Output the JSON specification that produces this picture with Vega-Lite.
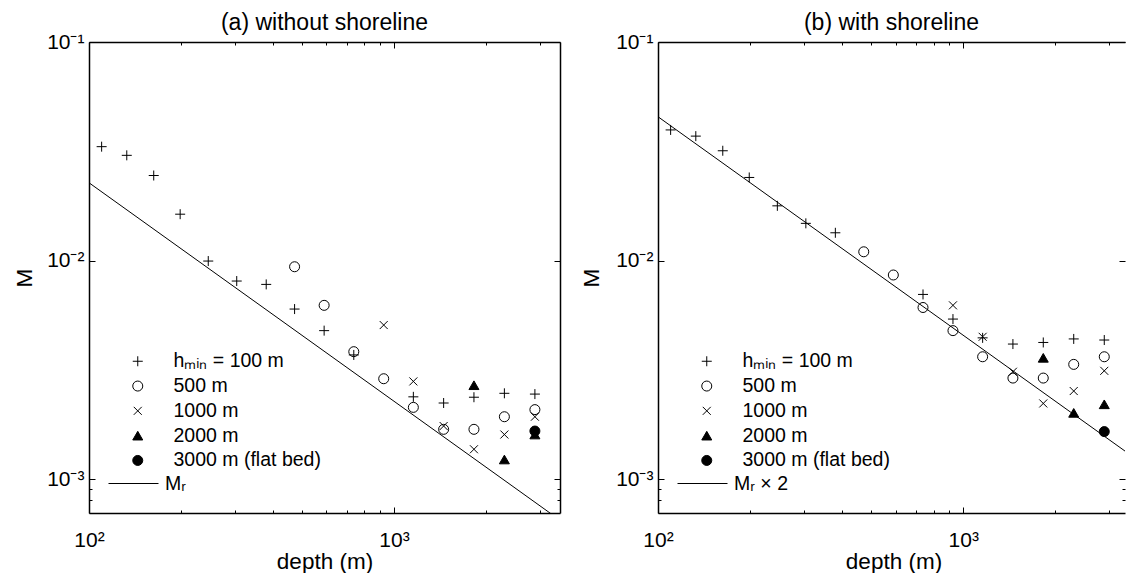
{
  "$schema": "https://vega.github.io/schema/vega-lite/v6.json",
  "background": "white",
  "padding": {"left": 13, "top": 12, "right": 0, "bottom": 0},
  "bounds": "flush",
  "spacing": 98,
  "config": {
    "view": {"stroke": null},
    "font": "Liberation Sans",
    "axis": {
      "grid": false,
      "domainColor": "black",
      "domainWidth": 1.5,
      "tickColor": "black",
      "tickWidth": 1,
      "labelColor": "black",
      "titleColor": "black",
      "labelFont": "Liberation Sans",
      "titleFont": "Liberation Sans",
      "labelFontSize": 21,
      "titleFontSize": 22.5,
      "titleFontWeight": "normal"
    },
    "legend": {
      "labelFont": "Liberation Sans",
      "labelColor": "black",
      "labelFontSize": 19.5,
      "padding": 0,
      "symbolStrokeColor": "black",
      "symbolStrokeWidth": 1,
      "symbolOpacity": 1
    },
    "title": {"font": "Liberation Sans", "fontSize": 23, "fontWeight": "normal", "color": "black"}
  },
  "datasets": {
    "pa": [
      {"depth": 110, "M": 0.0332, "series": "hₘᵢₙ = 100 m"},
      {"depth": 133, "M": 0.0303, "series": "hₘᵢₙ = 100 m"},
      {"depth": 163, "M": 0.0245, "series": "hₘᵢₙ = 100 m"},
      {"depth": 199, "M": 0.0163, "series": "hₘᵢₙ = 100 m"},
      {"depth": 246, "M": 0.00995, "series": "hₘᵢₙ = 100 m"},
      {"depth": 305, "M": 0.00806, "series": "hₘᵢₙ = 100 m"},
      {"depth": 381, "M": 0.00778, "series": "hₘᵢₙ = 100 m"},
      {"depth": 472, "M": 0.0060, "series": "hₘᵢₙ = 100 m"},
      {"depth": 590, "M": 0.00478, "series": "hₘᵢₙ = 100 m"},
      {"depth": 738, "M": 0.0037, "series": "hₘᵢₙ = 100 m"},
      {"depth": 1157, "M": 0.00238, "series": "hₘᵢₙ = 100 m"},
      {"depth": 1454, "M": 0.00223, "series": "hₘᵢₙ = 100 m"},
      {"depth": 1828, "M": 0.00237, "series": "hₘᵢₙ = 100 m"},
      {"depth": 2300, "M": 0.00247, "series": "hₘᵢₙ = 100 m"},
      {"depth": 2896, "M": 0.00245, "series": "hₘᵢₙ = 100 m"},
      {"depth": 472, "M": 0.00937, "series": "500 m"},
      {"depth": 590, "M": 0.00624, "series": "500 m"},
      {"depth": 738, "M": 0.00383, "series": "500 m"},
      {"depth": 925, "M": 0.00288, "series": "500 m"},
      {"depth": 1157, "M": 0.00213, "series": "500 m"},
      {"depth": 1454, "M": 0.00169, "series": "500 m"},
      {"depth": 1828, "M": 0.00169, "series": "500 m"},
      {"depth": 2300, "M": 0.00193, "series": "500 m"},
      {"depth": 2896, "M": 0.00208, "series": "500 m"},
      {"depth": 925, "M": 0.00507, "series": "1000 m"},
      {"depth": 1157, "M": 0.0028, "series": "1000 m"},
      {"depth": 1454, "M": 0.00175, "series": "1000 m"},
      {"depth": 1828, "M": 0.00137, "series": "1000 m"},
      {"depth": 2300, "M": 0.0016, "series": "1000 m"},
      {"depth": 2896, "M": 0.00193, "series": "1000 m"},
      {"depth": 1828, "M": 0.00269, "series": "2000 m"},
      {"depth": 2300, "M": 0.00123, "series": "2000 m"},
      {"depth": 2896, "M": 0.0016, "series": "2000 m"},
      {"depth": 2896, "M": 0.00166, "series": "3000 m (flat bed)"}
    ],
    "pb": [
      {"depth": 110, "M": 0.0396, "series": "hₘᵢₙ = 100 m"},
      {"depth": 133, "M": 0.0371, "series": "hₘᵢₙ = 100 m"},
      {"depth": 163, "M": 0.0318, "series": "hₘᵢₙ = 100 m"},
      {"depth": 199, "M": 0.024, "series": "hₘᵢₙ = 100 m"},
      {"depth": 246, "M": 0.0178, "series": "hₘᵢₙ = 100 m"},
      {"depth": 305, "M": 0.0148, "series": "hₘᵢₙ = 100 m"},
      {"depth": 381, "M": 0.0134, "series": "hₘᵢₙ = 100 m"},
      {"depth": 738, "M": 0.0070, "series": "hₘᵢₙ = 100 m"},
      {"depth": 925, "M": 0.0054, "series": "hₘᵢₙ = 100 m"},
      {"depth": 1157, "M": 0.00443, "series": "hₘᵢₙ = 100 m"},
      {"depth": 1454, "M": 0.00415, "series": "hₘᵢₙ = 100 m"},
      {"depth": 1828, "M": 0.00422, "series": "hₘᵢₙ = 100 m"},
      {"depth": 2300, "M": 0.00438, "series": "hₘᵢₙ = 100 m"},
      {"depth": 2896, "M": 0.00433, "series": "hₘᵢₙ = 100 m"},
      {"depth": 472, "M": 0.01097, "series": "500 m"},
      {"depth": 590, "M": 0.00859, "series": "500 m"},
      {"depth": 738, "M": 0.0061, "series": "500 m"},
      {"depth": 925, "M": 0.00478, "series": "500 m"},
      {"depth": 1157, "M": 0.00363, "series": "500 m"},
      {"depth": 1454, "M": 0.0029, "series": "500 m"},
      {"depth": 1828, "M": 0.0029, "series": "500 m"},
      {"depth": 2300, "M": 0.00335, "series": "500 m"},
      {"depth": 2896, "M": 0.00363, "series": "500 m"},
      {"depth": 925, "M": 0.00624, "series": "1000 m"},
      {"depth": 1157, "M": 0.00448, "series": "1000 m"},
      {"depth": 1454, "M": 0.0031, "series": "1000 m"},
      {"depth": 1828, "M": 0.00222, "series": "1000 m"},
      {"depth": 2300, "M": 0.00253, "series": "1000 m"},
      {"depth": 2896, "M": 0.00313, "series": "1000 m"},
      {"depth": 1828, "M": 0.00359, "series": "2000 m"},
      {"depth": 2300, "M": 0.00201, "series": "2000 m"},
      {"depth": 2896, "M": 0.0022, "series": "2000 m"},
      {"depth": 2896, "M": 0.00165, "series": "3000 m (flat bed)"}
    ],
    "la": [
      {"depth": 100, "M": 0.0227, "lab": "Mᵣ"},
      {"depth": 3500, "M": 0.000649, "lab": "Mᵣ"}
    ],
    "lb": [
      {"depth": 100, "M": 0.0455, "lab": "Mᵣ × 2"},
      {"depth": 3386, "M": 0.001344, "lab": "Mᵣ × 2"}
    ]
  },
  "resolve": {
    "scale": {"x": "independent", "y": "independent", "shape": "independent", "fill": "independent", "stroke": "independent"},
    "legend": {"shape": "independent", "fill": "independent", "stroke": "independent"}
  },
  "hconcat": [
    {
      "width": 471,
      "height": 471,
      "title": {"text": "(a) without shoreline", "offset": -22, "baseline": "alphabetic", "frame": "group", "anchor": "middle"},
      "layer": [
        {
          "data": {"name": "la"},
          "mark": {"type": "line", "color": "black", "strokeWidth": 1, "clip": true},
          "encoding": {
            "x": {"field": "depth", "type": "quantitative",
              "scale": {"type": "log", "domain": [100, 3500], "nice": false},
              "axis": {"orient": "bottom", "title": "depth (m)", "titleY": 55, "titleBaseline": "alphabetic",
                "values": [100, 200, 300, 400, 500, 600, 700, 800, 900, 1000, 2000, 3000],
                "labelExpr": "datum.value == 100 ? '10²' : datum.value == 1000 ? '10³' : ''",
                "tickSize": {"condition": {"test": "datum.value == 100 || datum.value == 1000", "value": -6}, "value": -3},
                "labelPadding": 22, "labelFlush": false, "labelOverlap": false, "minExtent": 0}},
            "y": {"field": "M", "type": "quantitative",
              "scale": {"type": "log", "domain": [0.0007, 0.1], "nice": false},
              "axis": {"orient": "left", "title": "M", "titleX": -65, "titleY": 235.5, "titleBaseline": "middle",
                "values": [0.0008, 0.0009, 0.001, 0.01, 0.1],
                "labelExpr": "datum.value == 0.1 ? '10⁻¹' : datum.value == 0.01 ? '10⁻²' : datum.value == 0.001 ? '10⁻³' : ''",
                "tickSize": {"condition": {"test": "datum.value == 0.1 || datum.value == 0.01 || datum.value == 0.001", "value": -6}, "value": -3},
                "labelPadding": 11, "labelFlush": false, "labelOverlap": false, "labelBaseline": "middle", "minExtent": 0}},
            "stroke": {"field": "lab", "type": "nominal", "scale": {"range": ["black"]},
              "legend": {"orient": "none", "legendX": 19, "legendY": 416, "title": null, "symbolType": "stroke", "symbolSize": 2500, "labelOffset": 6,
                "encode": {"symbols": {"update": {"stroke": {"value": "black"}, "strokeWidth": {"value": 1}}}}}}
          }
        },
        {
          "data": {"name": "pa"},
          "mark": {"type": "point", "size": 100, "stroke": "black", "strokeWidth": 1, "opacity": 1},
          "encoding": {
            "x": {"field": "depth", "type": "quantitative",
              "axis": {"orient": "top", "title": null, "labels": false, "minExtent": 0, "maxExtent": 0,
                "values": [100, 200, 300, 400, 500, 600, 700, 800, 900, 1000, 2000, 3000],
                "tickSize": {"condition": {"test": "datum.value == 100 || datum.value == 1000", "value": -6}, "value": -3}}},
            "y": {"field": "M", "type": "quantitative",
              "axis": {"orient": "right", "title": null, "labels": false, "minExtent": 0, "maxExtent": 0,
                "values": [0.0008, 0.0009, 0.001, 0.01, 0.1],
                "tickSize": {"condition": {"test": "datum.value == 0.1 || datum.value == 0.01 || datum.value == 0.001", "value": -6}, "value": -3}}},
            "shape": {"field": "series", "type": "nominal",
              "scale": {"domain": ["hₘᵢₙ = 100 m", "500 m", "1000 m", "2000 m", "3000 m (flat bed)"],
                "range": ["M-1,0H1M0,-1V1", "circle", "M-0.8,-0.8L0.8,0.8M-0.8,0.8L0.8,-0.8", "triangle-up", "circle"]},
              "legend": {"orient": "none", "legendX": 39, "legendY": 309.5, "title": null, "rowPadding": 3.8, "labelOffset": 26, "symbolSize": 100,
                "encode": {"symbols": {"update": {"stroke": {"value": "black"}, "strokeWidth": {"value": 1}}}}}},
            "fill": {"field": "series", "type": "nominal",
              "scale": {"domain": ["hₘᵢₙ = 100 m", "500 m", "1000 m", "2000 m", "3000 m (flat bed)"],
                "range": ["transparent", "transparent", "transparent", "black", "black"]},
              "legend": {"orient": "none", "legendX": 39, "legendY": 309.5, "title": null, "rowPadding": 3.8, "labelOffset": 26, "symbolSize": 100,
                "encode": {"symbols": {"update": {"stroke": {"value": "black"}, "strokeWidth": {"value": 1}}}}}}
          }
        }
      ]
    },
    {
      "width": 467,
      "height": 471,
      "title": {"text": "(b) with shoreline", "offset": -22, "baseline": "alphabetic", "frame": "group", "anchor": "middle"},
      "layer": [
        {
          "data": {"name": "lb"},
          "mark": {"type": "line", "color": "black", "strokeWidth": 1, "clip": true},
          "encoding": {
            "x": {"field": "depth", "type": "quantitative",
              "scale": {"type": "log", "domain": [100, 3386], "nice": false},
              "axis": {"orient": "bottom", "title": "depth (m)", "titleY": 55, "titleX": 235.5, "titleBaseline": "alphabetic",
                "values": [100, 200, 300, 400, 500, 600, 700, 800, 900, 1000, 2000, 3000],
                "labelExpr": "datum.value == 100 ? '10²' : datum.value == 1000 ? '10³' : ''",
                "tickSize": {"condition": {"test": "datum.value == 100 || datum.value == 1000", "value": -6}, "value": -3},
                "labelPadding": 22, "labelFlush": false, "labelOverlap": false, "minExtent": 0}},
            "y": {"field": "M", "type": "quantitative",
              "scale": {"type": "log", "domain": [0.0007, 0.1], "nice": false},
              "axis": {"orient": "left", "title": "M", "titleX": -67, "titleY": 235.5, "titleBaseline": "middle",
                "values": [0.0008, 0.0009, 0.001, 0.01, 0.1],
                "labelExpr": "datum.value == 0.1 ? '10⁻¹' : datum.value == 0.01 ? '10⁻²' : datum.value == 0.001 ? '10⁻³' : ''",
                "tickSize": {"condition": {"test": "datum.value == 0.1 || datum.value == 0.01 || datum.value == 0.001", "value": -6}, "value": -3},
                "labelPadding": 11, "labelFlush": false, "labelOverlap": false, "labelBaseline": "middle", "minExtent": 0}},
            "stroke": {"field": "lab", "type": "nominal", "scale": {"range": ["black"]},
              "legend": {"orient": "none", "legendX": 19, "legendY": 416, "title": null, "symbolType": "stroke", "symbolSize": 2500, "labelOffset": 6,
                "encode": {"symbols": {"update": {"stroke": {"value": "black"}, "strokeWidth": {"value": 1}}}}}}
          }
        },
        {
          "data": {"name": "pb"},
          "mark": {"type": "point", "size": 100, "stroke": "black", "strokeWidth": 1, "opacity": 1},
          "encoding": {
            "x": {"field": "depth", "type": "quantitative",
              "axis": {"orient": "top", "title": null, "labels": false, "minExtent": 0, "maxExtent": 0,
                "values": [100, 200, 300, 400, 500, 600, 700, 800, 900, 1000, 2000, 3000],
                "tickSize": {"condition": {"test": "datum.value == 100 || datum.value == 1000", "value": -6}, "value": -3}}},
            "y": {"field": "M", "type": "quantitative",
              "axis": {"orient": "right", "title": null, "labels": false, "domain": false, "minExtent": 0, "maxExtent": 0,
                "values": [0.0008, 0.0009, 0.001, 0.01, 0.1],
                "tickSize": {"condition": {"test": "datum.value == 0.1 || datum.value == 0.01 || datum.value == 0.001", "value": -6}, "value": -3}}},
            "shape": {"field": "series", "type": "nominal",
              "scale": {"domain": ["hₘᵢₙ = 100 m", "500 m", "1000 m", "2000 m", "3000 m (flat bed)"],
                "range": ["M-1,0H1M0,-1V1", "circle", "M-0.8,-0.8L0.8,0.8M-0.8,0.8L0.8,-0.8", "triangle-up", "circle"]},
              "legend": {"orient": "none", "legendX": 39, "legendY": 309.5, "title": null, "rowPadding": 3.8, "labelOffset": 26, "symbolSize": 100,
                "encode": {"symbols": {"update": {"stroke": {"value": "black"}, "strokeWidth": {"value": 1}}}}}},
            "fill": {"field": "series", "type": "nominal",
              "scale": {"domain": ["hₘᵢₙ = 100 m", "500 m", "1000 m", "2000 m", "3000 m (flat bed)"],
                "range": ["transparent", "transparent", "transparent", "black", "black"]},
              "legend": {"orient": "none", "legendX": 39, "legendY": 309.5, "title": null, "rowPadding": 3.8, "labelOffset": 26, "symbolSize": 100,
                "encode": {"symbols": {"update": {"stroke": {"value": "black"}, "strokeWidth": {"value": 1}}}}}}
          }
        }
      ]
    }
  ]
}
